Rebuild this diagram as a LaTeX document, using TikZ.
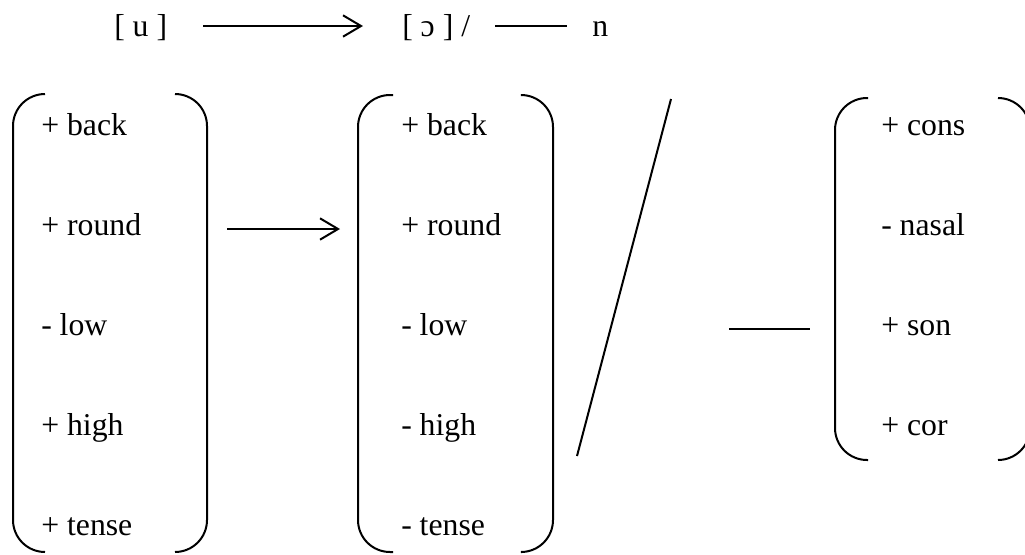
\documentclass[tikz,border=0pt]{standalone}
\usepackage{fontspec}
\setmainfont{Liberation Serif}
\usetikzlibrary{arrows.meta}
\tikzset{
  brk/.style={line width=1.5pt, rounded corners=24pt},
  feat/.style={anchor=base west, inner sep=0pt, font=\fontsize{23.8}{28}\selectfont},
  ln/.style={line width=1.5pt},
  arr/.style={line width=1.5pt, -{Straight Barb[length=13.5pt, width=16pt, line width=1.5pt]}},
}
\begin{document}
\begin{tikzpicture}[x=0.75pt,y=-0.75pt]
\useasboundingbox (0,0) rectangle (1025,554);
\clip (0,0) rectangle (1025,554);
% top line
\node[feat] (tu) at (114,36) {[ u ]};
\node[feat] (to) at (402,36) {[ ɔ ] /};
\node[feat] (tn) at (592,36) {n};
\coordinate (ta1) at (203,26);
\coordinate (ta2) at (363,26);
\coordinate (tl1) at (495,26);
\coordinate (tl2) at (567,26);
\draw[arr] (ta1) -- (ta2);
\draw[ln] (tl1) -- (tl2);
% left group
\draw[brk] (45,94) -- (13,94) -- (13,552) -- (45,552);
\draw[brk] (175,94) -- (207,94) -- (207,552) -- (175,552);
\node[feat] (a1) at (41,135) {+ back};
\node[feat] (a2) at (41,235) {+ round};
\node[feat] (a3) at (41,335) {- low};
\node[feat] (a4) at (41,435) {+ high};
\node[feat] (a5) at (41,535) {+ tense};
% arrow
\coordinate (m1) at (227,229);
\coordinate (m2) at (340,229);
\draw[arr] (m1) -- (m2);
% middle group
\draw[brk] (393,95) -- (358,95) -- (358,552) -- (393,552);
\draw[brk] (522,95) -- (553,95) -- (553,552) -- (522,552);
\node[feat] (b1) at (401,135) {+ back};
\node[feat] (b2) at (401,235) {+ round};
\node[feat] (b3) at (401,335) {- low};
\node[feat] (b4) at (401,435) {- high};
\node[feat] (b5) at (401,535) {- tense};
% slash
\coordinate (s1) at (671,99);
\coordinate (s2) at (577,456);
\draw[ln] (s1) -- (s2);
% blank line
\coordinate (h1) at (729,329);
\coordinate (h2) at (810,329);
\draw[ln] (h1) -- (h2);
% right group
\draw[brk] (868,98) -- (835,98) -- (835,460) -- (868,460);
\draw[brk] (998,98) -- (1030,98) -- (1030,460) -- (998,460);
\node[feat] (c1) at (881,135) {+ cons};
\node[feat] (c2) at (881,235) {- nasal};
\node[feat] (c3) at (881,335) {+ son};
\node[feat] (c4) at (881,435) {+ cor};
\end{tikzpicture}
\end{document}
